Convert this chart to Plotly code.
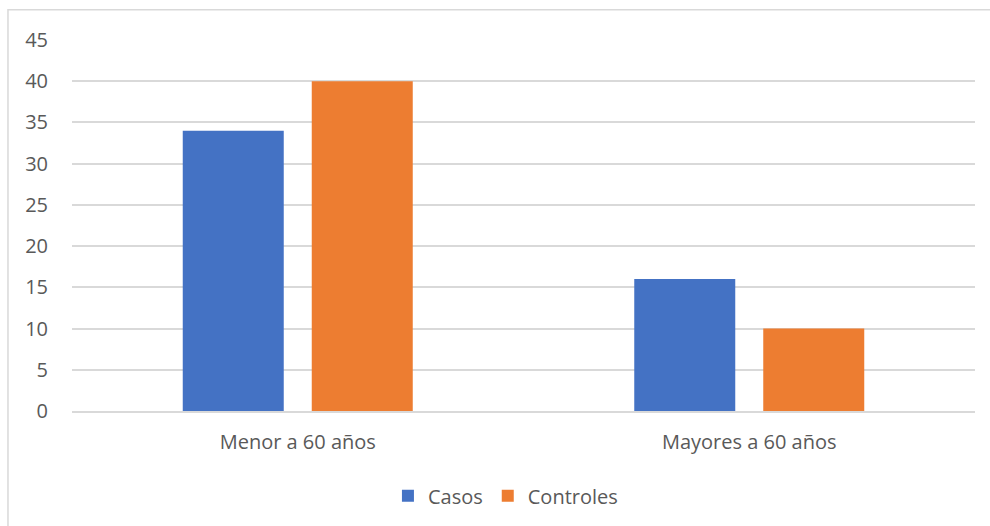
import plotly.graph_objects as go

categories = ["Menor a 60 años", "Mayores a 60 años"]
casos = [34, 16]
controles = [40, 10]
y_ticks = [0, 5, 10, 15, 20, 25, 30, 35, 40, 45]

BLUE = "#4472C4"
ORANGE = "#ED7D31"
GRID = "#D9D9D9"
TEXT = "#595959"
FONT = "Open Sans"
SIZE = 20

fig = go.Figure()
fig.add_trace(go.Bar(name="Casos", x=categories, y=casos, marker=dict(color=BLUE, line=dict(width=0))))
fig.add_trace(go.Bar(name="Controles", x=categories, y=controles, marker=dict(color=ORANGE, line=dict(width=0))))

fig.update_layout(
    width=990,
    height=526,
    margin=dict(l=72, r=15, t=40, b=114),
    paper_bgcolor="white",
    plot_bgcolor="white",
    barmode="group",
    bargap=0.4286,
    bargroupgap=0.217,
    font=dict(family=FONT, size=SIZE, color=TEXT),
    showlegend=True,
    legend=dict(
        orientation="h",
        x=0.48,
        xanchor="center",
        y=-0.225,
        yanchor="middle",
        font=dict(family=FONT, size=SIZE, color=TEXT),
        itemwidth=30,
        traceorder="normal",
    ),
    xaxis=dict(
        showgrid=False,
        showline=True,
        linecolor=GRID,
        linewidth=1.5,
        ticks="",
        ticklabelstandoff=12,
        tickfont=dict(family=FONT, size=SIZE, color=TEXT),
    ),
    yaxis=dict(
        range=[0, 45],
        tickvals=y_ticks,
        showgrid=True,
        gridcolor=GRID,
        gridwidth=1.5,
        zeroline=False,
        showline=False,
        ticks="",
        ticklabelstandoff=23,
        tickfont=dict(family=FONT, size=SIZE, color=TEXT),
    ),
    shapes=[
        dict(
            type="rect",
            xref="paper",
            yref="paper",
            x0=-0.0709,
            x1=1.2,
            y0=-0.5,
            y1=1.0815,
            line=dict(color=GRID, width=1.5),
            fillcolor="rgba(0,0,0,0)",
            layer="below",
        )
    ],
)

fig.write_html("out.html")
